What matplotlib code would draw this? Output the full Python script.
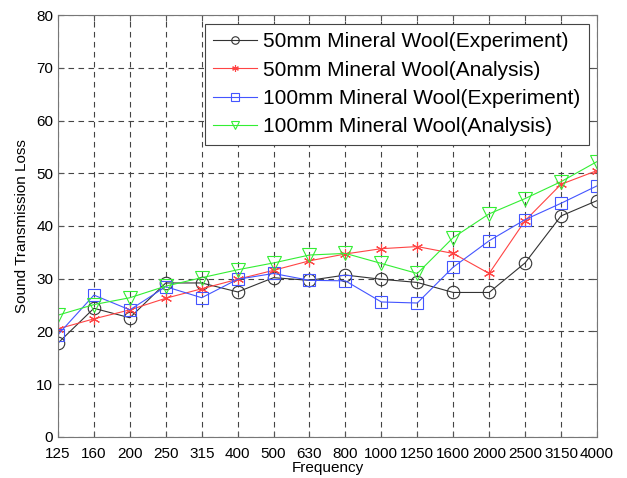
import matplotlib
matplotlib.use("Agg")
import matplotlib.pyplot as plt
import numpy as np

plt.rcParams["font.family"] = ["Liberation Sans", "DejaVu Sans"]

freqs = ["125", "160", "200", "250", "315", "400", "500", "630", "800",
         "1000", "1250", "1600", "2000", "2500", "3150", "4000"]

wool50_exp = [17.8, 24.4, 22.6, 29.2, 29.2, 27.5, 30.2, 29.7, 30.7,
              29.9, 29.3, 27.4, 27.4, 33.0, 41.9, 44.8]
wool50_ana = [20.5, 22.4, 24.1, 26.3, 28.1, 29.9, 31.6, 33.4, 34.7,
              35.7, 36.1, 34.8, 31.0, 41.0, 47.9, 50.5]
wool100_exp = [19.4, 26.9, 24.1, 28.5, 26.4, 29.9, 31.0, 29.7, 29.6,
               25.6, 25.4, 32.2, 37.2, 41.2, 44.3, 47.6]
wool100_ana = [23.1, 25.1, 26.4, 28.6, 30.2, 31.7, 33.0, 34.5, 34.8,
               32.9, 31.0, 37.8, 42.3, 45.2, 48.4, 52.2]

fig = plt.figure(figsize=(6.27, 4.78), dpi=100)
ax = fig.add_axes([0.0925, 0.0858, 0.8595, 0.8828])

x = np.arange(len(freqs))
ax.plot(x, wool50_exp, color="#333333", lw=0.8, marker="o", ms=9,
        mfc="none", mew=0.8, label="50mm Mineral Wool(Experiment)")
ax.plot(x, wool50_ana, color="#ff4444", lw=0.8, marker=(6, 2, 0), ms=8,
        mew=0.8, label="50mm Mineral Wool(Analysis)")
ax.plot(x, wool100_exp, color="#4455ff", lw=0.8, marker="s", ms=9,
        mfc="none", mew=0.8, label="100mm Mineral Wool(Experiment)")
ax.plot(x, wool100_ana, color="#33ee33", lw=0.8, marker="v", ms=10,
        mfc="none", mew=0.8, label="100mm Mineral Wool(Analysis)")

ax.set_xlim(0, len(freqs) - 1)
ax.set_ylim(0, 80)
ax.set_xticks(x)
ax.set_xticklabels(freqs)
ax.set_yticks(np.arange(0, 81, 10))
ax.tick_params(direction="in", top=True, right=True, labelsize=11,
               color="#555555", length=4)
ax.tick_params(axis="x", pad=7)
for s in ax.spines.values():
    s.set_color("#777777")
ax.grid(True, color="#444444", ls=(0, (5, 4)), lw=0.8)

ax.set_xlabel("Frequency", fontsize=11, labelpad=0)
ax.set_ylabel("Sound Transmission Loss", fontsize=11, labelpad=5)

leg = ax.legend(loc="upper right", fontsize=15, frameon=True, fancybox=False,
                edgecolor="#444444", framealpha=1, borderpad=0.4,
                labelspacing=0.45, handlelength=2.1, handletextpad=0.3,
                borderaxespad=0, markerscale=0.6,
                bbox_to_anchor=(0.985, 0.979))
leg.get_frame().set_linewidth(0.8)

fig.savefig("out.png", dpi=100)
